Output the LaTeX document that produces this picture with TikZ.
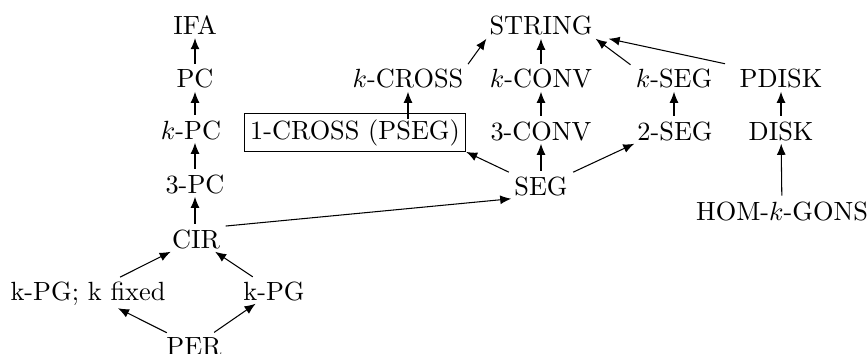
\documentclass[tikz,border=0pt]{standalone}
\usetikzlibrary{arrows.meta,calc,fit}
\begin{document}
\begin{tikzpicture}[x=0.38pt,y=-0.38pt,
  cls/.style={inner sep=1pt,anchor=base},
  arr/.style={-{Latex[length=4.2pt,width=3.4pt]},shorten <=1pt}]
\useasboundingbox (0,0) rectangle (867,353);
% left column: polygon / circle classes
\node[cls] (ifa)  at (195,35)  {IFA};
\node[cls] (pc)   at (195,88)  {PC};
\node[cls] (kpc)  at (191,139) {$k$-PC};
\node[cls] (tpc)  at (195,193) {3-PC};
\node[cls] (cir)  at (196,248) {CIR};
\node[cls] (kpgf) at (88,300)  {k-PG; k fixed};
\node[cls] (kpg)  at (274,300) {k-PG};
\node[cls] (per)  at (194,355) {PER};
% segment / string classes
\node[cls] (string) at (541,35)  {STRING};
\node[cls] (kcross) at (408,88)  {$k$-CROSS};
\node[cls] (kconv)  at (541,88)  {$k$-CONV};
\node[cls] (kseg)   at (674,88)  {$k$-SEG};
\node[cls] (pdisk)  at (781,88)  {PDISK};
\node[cls,inner sep=0pt] (cross1) at (355,139) {1-CROSS (PSEG)};
\node[draw,inner sep=2pt,fit=(cross1)] (frame) {};
\node[cls] (tconv)  at (541,140) {3-CONV};
\node[cls] (tseg)   at (675,140) {2-SEG};
\node[cls] (disk)   at (781,140) {DISK};
\node[cls] (seg)    at (541,195) {SEG};
\node[cls] (hom)    at (782,220) {HOM-$k$-GONS};
% inclusions
\draw[arr] (pc) -- (ifa);
\draw[arr] (kpc.north -| pc) -- (pc);
\draw[arr] (tpc) -- (tpc |- kpc.south);
\draw[arr] (cir.north -| tpc) -- (tpc);
\draw[arr] (kpgf) -- (cir);
\draw[arr] (kpg) -- (cir);
\draw[arr] (per) -- (kpgf);
\draw[arr] (per) -- (kpg);
\draw[arr] (cir.north east) -- (seg.south west);
\draw[arr] (seg.north west) -- (frame.south east);
\draw[arr] (seg) -- (tconv);
\draw[arr] (tconv) -- (kconv);
\draw[arr] (kconv) -- (string);
\draw[arr] (seg.north east) -- (tseg.south west);
\draw[arr] (tseg.north -| kseg) -- (kseg);
\draw[arr,shorten <=0pt] (kcross |- cross1.north) -- (kcross);
\draw[arr] (kcross.north east) -- (string.south west);
\draw[arr] (kseg.north west) -- (string.south east);
\draw[arr] ($(pdisk.north west)+(-9,-2)$) -- ($(string.south east)+(13,0)$);
\draw[arr] (disk) -- (pdisk);
\draw[arr] (hom) -- (disk);
\end{tikzpicture}
\end{document}
